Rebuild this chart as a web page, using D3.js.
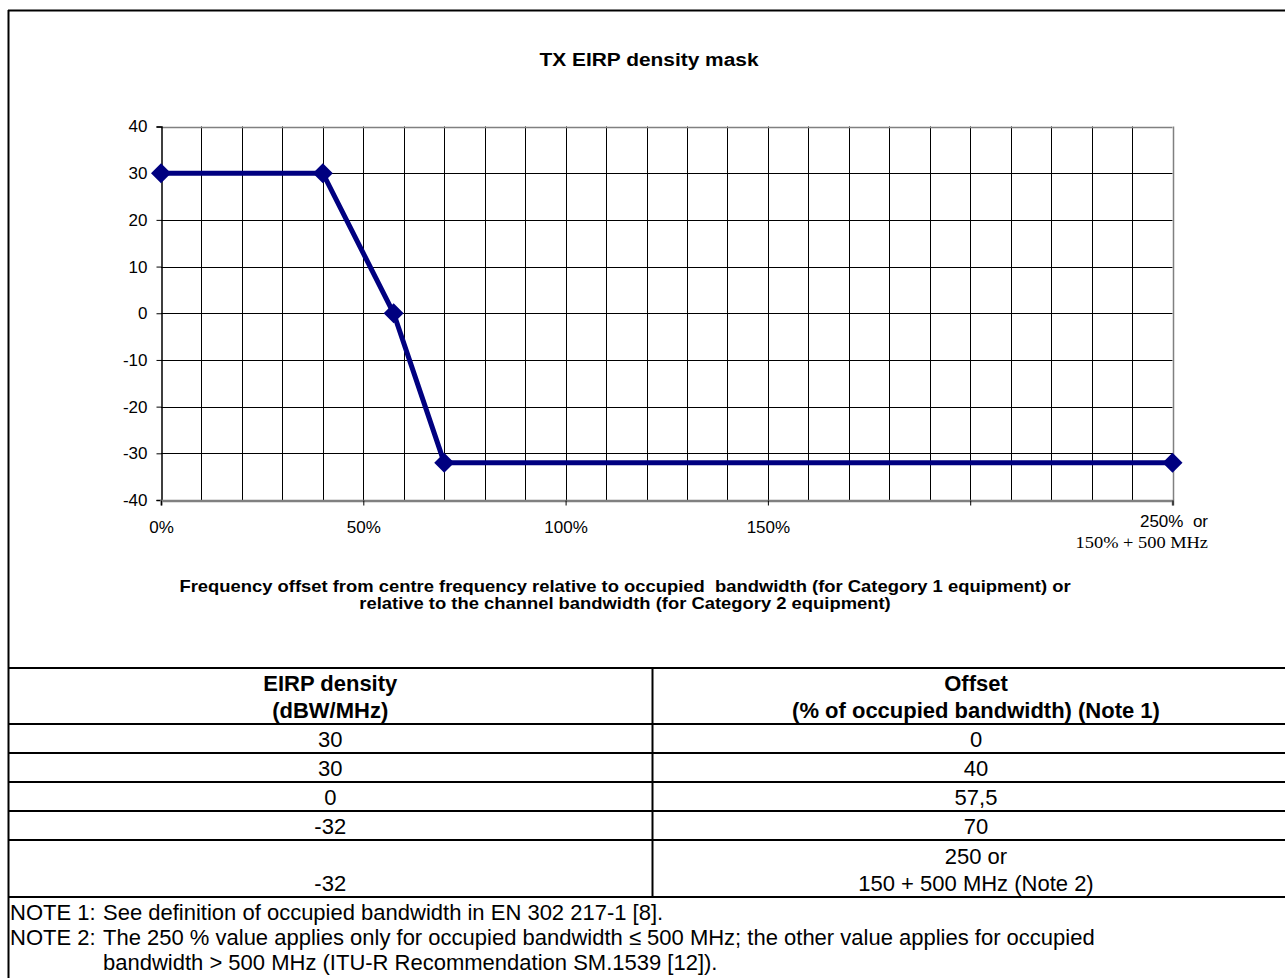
<!DOCTYPE html>
<html><head><meta charset="utf-8">
<script src="https://cdn.jsdelivr.net/npm/d3@7"></script>
<style>
html,body{margin:0;padding:0;background:#fff;}
svg{display:block;font-family:"Liberation Sans",Arial,sans-serif;}
</style></head>
<body>
<svg id="c" width="1285" height="978"></svg>
<script>
// ---- data ----
const offsets = [0, 40, 57.5, 70, 250];          // % of occupied bandwidth
const eirp = [30, 30, 0, -32, -32];              // dBW/MHz
const yTicks = [40, 30, 20, 10, 0, -10, -20, -30, -40];
const xTickValues = [0, 50, 100, 150, 200, 250];
const xTickLabels = ["0%", "50%", "100%", "150%", "", ""];
const lastTickLabel = ["250%\u00a0\u00a0or", "150% + 500 MHz"];
const title = "TX EIRP density mask";
const xTitle = ["Frequency offset from centre frequency relative to occupied\u00a0\u00a0bandwidth (for Category 1 equipment) or",
                "relative to the channel bandwidth (for Category 2 equipment)"];
const tableHeaders = [["EIRP density", "(dBW/MHz)"], ["Offset", "(% of occupied bandwidth) (Note 1)"]];
const tableCol1 = ["30", "30", "0", "-32", "-32"];
const tableCol2 = [["0"], ["40"], ["57,5"], ["70"], ["250 or", "150 + 500 MHz (Note 2)"]];
const notes = [
  {label: "NOTE 1:", lines: ["See definition of occupied bandwidth in EN 302 217-1 [8]."]},
  {label: "NOTE 2:", lines: ["The 250 % value applies only for occupied bandwidth \u2264 500 MHz; the other value applies for occupied",
                            "bandwidth > 500 MHz (ITU-R Recommendation SM.1539 [12])."]}
];

const svg = d3.select("#c");
const navy = "#000080";

// ---- outer frame ----
svg.append("line").attr("x1", 8).attr("x2", 1285).attr("y1", 10.5).attr("y2", 10.5).attr("stroke", "#000").attr("stroke-width", 2);
svg.append("line").attr("x1", 8.5).attr("x2", 8.5).attr("y1", 10).attr("y2", 978).attr("stroke", "#000").attr("stroke-width", 2);

// ---- chart ----
const x = d3.scaleLinear().domain([0, 250]).range([161, 1172.5]);
const y = d3.scaleLinear().domain([-40, 40]).range([500, 126.5]);

svg.append("text").attr("transform", "translate(649,66) scale(1.1,1)").attr("text-anchor", "middle")
  .attr("font-weight", "bold").attr("font-size", 19).text(title);

const g = svg.append("g");
g.selectAll("line.vg").data(d3.range(10, 250, 10)).join("line")
  .attr("x1", d => Math.round(x(d)) + 0.5).attr("x2", d => Math.round(x(d)) + 0.5)
  .attr("y1", y(40)).attr("y2", y(-40)).attr("stroke", "#000").attr("stroke-width", 1);
g.selectAll("line.hg").data(d3.range(-30, 40, 10)).join("line")
  .attr("x1", x(0)).attr("x2", x(250))
  .attr("y1", d => Math.round(y(d)) + 0.5).attr("y2", d => Math.round(y(d)) + 0.5)
  .attr("stroke", "#000").attr("stroke-width", 1);
g.append("line").attr("x1", x(0)).attr("x2", x(250)).attr("y1", Math.round(y(40)) + 0.5).attr("y2", Math.round(y(40)) + 0.5).attr("stroke", "#808080").attr("stroke-width", 1.5);
g.append("line").attr("x1", Math.round(x(250)) + 0.5).attr("x2", Math.round(x(250)) + 0.5).attr("y1", y(40)).attr("y2", y(-40)).attr("stroke", "#808080").attr("stroke-width", 1.5);

// y axis
const yAxis = d3.axisLeft(y).tickValues(yTicks).tickSize(5).tickPadding(9).tickFormat(d => String(d));
const ya = svg.append("g").attr("transform", `translate(${Math.round(x(0)) + 0.5},0)`).call(yAxis);
ya.select(".domain").attr("stroke", "#000").attr("stroke-width", 1.5);
ya.selectAll(".tick line").attr("stroke", "#000");
ya.selectAll("text").attr("font-size", 17).attr("font-family", "Liberation Sans, Arial, sans-serif").attr("fill", "#000");

// x axis
const xAxis = d3.axisBottom(x).tickValues(xTickValues).tickSize(5).tickPadding(15)
  .tickFormat((d, i) => xTickLabels[i]);
const xa = svg.append("g").attr("transform", `translate(0,${Math.round(y(-40)) + 0.5})`).call(xAxis);
xa.select(".domain").attr("stroke", "#808080").attr("stroke-width", 2.5);
xa.selectAll(".tick line").attr("stroke", "#000");
xa.selectAll("text").attr("font-size", 17).attr("font-family", "Liberation Sans, Arial, sans-serif").attr("fill", "#000");

svg.append("text").attr("x", 1208).attr("y", 527).attr("text-anchor", "end")
  .attr("font-size", 17).text(lastTickLabel[0]);
svg.append("text").attr("transform", "translate(1208,548) scale(1.15,1)").attr("text-anchor", "end")
  .attr("font-size", 16).attr("font-family", "Liberation Serif, Times New Roman, serif").text(lastTickLabel[1]);

// x-axis title
xTitle.forEach((t, i) => {
  svg.append("text").attr("transform", `translate(625,${592 + i * 17}) scale(1.15,1)`).attr("text-anchor", "middle")
    .attr("font-weight", "bold").attr("font-size", 16).text(t);
});

// line + markers
const line = d3.line().x((d, i) => x(offsets[i])).y(d => y(d));
svg.append("path").datum(eirp).attr("d", line).attr("fill", "none")
  .attr("stroke", navy).attr("stroke-width", 5).attr("stroke-linejoin", "miter");
const sym = d3.symbol().type(d3.symbolSquare).size(200);
svg.selectAll("path.mk").data(eirp).join("path")
  .attr("transform", (d, i) => `translate(${x(offsets[i])},${y(d)}) rotate(45)`)
  .attr("d", sym).attr("fill", navy);

// ---- table ----
const tL = 8, tR = 1300, tDiv = 652.5;
const rowLines = [668, 724, 753, 782, 811, 840, 897];
const tg = svg.append("g");
rowLines.forEach(ry => tg.append("line").attr("x1", tL).attr("x2", tR).attr("y1", ry).attr("y2", ry).attr("stroke", "#000").attr("stroke-width", 2));
tg.append("line").attr("x1", tDiv).attr("x2", tDiv).attr("y1", 668).attr("y2", 897).attr("stroke", "#000").attr("stroke-width", 2);

const c1 = (tL + tDiv) / 2, c2 = 976;
const fs = 22;
tableHeaders[0].forEach((t, i) => tg.append("text").attr("x", c1).attr("y", 691 + i * 27).attr("text-anchor", "middle").attr("font-weight", "bold").attr("font-size", fs).text(t));
tableHeaders[1].forEach((t, i) => tg.append("text").attr("x", c2).attr("y", 691 + i * 27).attr("text-anchor", "middle").attr("font-weight", "bold").attr("font-size", fs).text(t));
tableCol1.forEach((t, i) => {
  const bottom = rowLines[i + 2];
  tg.append("text").attr("x", c1).attr("y", bottom - 6).attr("text-anchor", "middle").attr("font-size", fs).text(t);
});
tableCol2.forEach((lines, i) => {
  const bottom = rowLines[i + 2];
  lines.forEach((t, j) => tg.append("text").attr("x", c2).attr("y", bottom - 6 - (lines.length - 1 - j) * 27).attr("text-anchor", "middle").attr("font-size", fs).text(t));
});

// notes
let ny = 920;
notes.forEach(n => {
  tg.append("text").attr("x", 10).attr("y", ny).attr("font-size", fs).text(n.label);
  n.lines.forEach((t, j) => {
    tg.append("text").attr("x", 103).attr("y", ny).attr("font-size", fs).text(t);
    ny += 25;
  });
});
</script>
</body></html>
